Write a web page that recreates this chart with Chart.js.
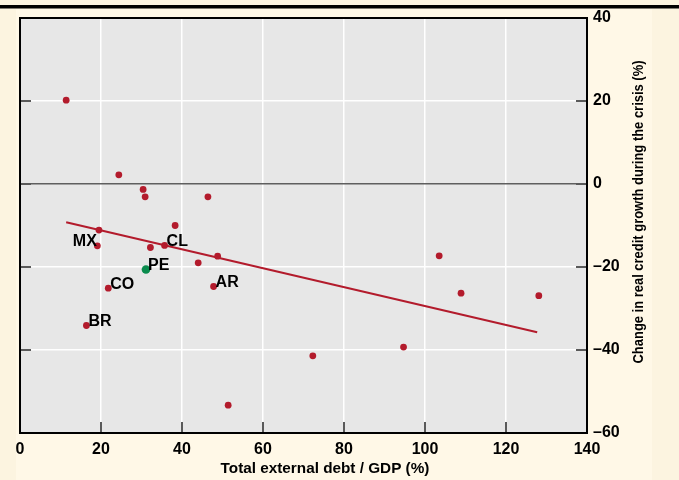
<!DOCTYPE html>
<html>
<head>
<meta charset="utf-8">
<script src="https://cdn.jsdelivr.net/npm/chart.js@4/dist/chart.umd.min.js"></script>
<style>
html,body{margin:0;padding:0;background:#FDF5E1;}
canvas{display:block;}
</style>
</head>
<body>
<canvas id="c" width="679" height="480"></canvas>
<script>
// ---- Data ----
const debtGdp      = [11.4, 24.4, 30.4, 30.9, 46.4, 38.3, 19.5, 19.1, 32.2, 35.7, 48.8, 44.0, 47.8, 21.8, 16.4, 103.5, 108.9, 128.1, 94.7, 72.3, 51.4];
const creditChange = [20.2, 2.2, -1.3, -3.1, -3.1, -10.0, -11.1, -14.9, -15.3, -14.8, -17.4, -19.0, -24.7, -25.1, -34.1, -17.3, -26.3, -26.9, -39.3, -41.4, -53.3];
const pointLabels  = ['', '', '', '', '', '', '', 'MX', '', 'CL', '', '', 'AR', 'CO', 'BR', '', '', '', '', '', ''];
const peDebt   = [31.1];
const peCredit = [-20.6];
const peLabels = ['PE'];
const fitDebt   = [11.4, 127.7];
const fitCredit = [-9.2, -35.7];
const xTicks = [0, 20, 40, 60, 80, 100, 120, 140];
const yTicks = [-60, -40, -20, 0, 20, 40];
const xTitle = 'Total external debt / GDP (%)';
const yTitle = 'Change in real credit growth during the crisis (%)';

const RED = '#B31B2C';
const GREEN = '#0B8C4E';
const FONT = "'Liberation Sans', Arial, sans-serif";

const toXY = (xs, ys) => xs.map((x, i) => ({x, y: ys[i]}));

const decor = {
  id: 'decor',
  beforeDraw(chart) {
    const {ctx, chartArea: a, width, height} = chart;
    ctx.save();
    ctx.fillStyle = '#FCF4E0';
    ctx.fillRect(0, 0, width, height);
    ctx.fillStyle = '#FFF8E7';
    ctx.fillRect(16, 9, 636, height - 9);
    ctx.fillStyle = '#000';
    ctx.fillRect(0, 5, width, 3.5);
    ctx.fillStyle = '#E7E7E7';
    ctx.fillRect(a.left, a.top, a.right - a.left, a.bottom - a.top);
    ctx.restore();
  },
  afterDraw(chart) {
    const {ctx, chartArea: a, scales} = chart;
    ctx.save();
    // inner tick marks
    ctx.strokeStyle = '#5a5a5a';
    ctx.lineWidth = 2;
    ctx.beginPath();
    xTicks.forEach(v => {
      if (v === xTicks[0] || v === xTicks[xTicks.length - 1]) return;
      const px = scales.x.getPixelForValue(v);
      ctx.moveTo(px, a.bottom);
      ctx.lineTo(px, a.bottom - 11);
    });
    yTicks.forEach(v => {
      if (v === yTicks[0] || v === yTicks[yTicks.length - 1]) return;
      const py = scales.y.getPixelForValue(v);
      ctx.moveTo(a.left, py);
      ctx.lineTo(a.left + 11, py);
      ctx.moveTo(a.right, py);
      ctx.lineTo(a.right - 11, py);
    });
    ctx.stroke();
    // frame
    ctx.strokeStyle = '#000';
    ctx.lineWidth = 2;
    ctx.strokeRect(a.left, a.top, a.right - a.left, a.bottom - a.top);
    // x title
    ctx.fillStyle = '#000';
    ctx.font = 'bold 15.3px ' + FONT;
    ctx.textAlign = 'center';
    ctx.textBaseline = 'middle';
    ctx.fillText(xTitle, 325, 469);
    // y title (reads bottom to top), slightly condensed like the reference
    ctx.font = 'bold 14.5px ' + FONT;
    const w = ctx.measureText(yTitle).width;
    ctx.translate(638.5, 212);
    ctx.rotate(-Math.PI / 2);
    ctx.scale(303 / w, 1);
    ctx.fillText(yTitle, 0, 0);
    ctx.restore();
  },
  afterDatasetsDraw(chart) {
    const {ctx} = chart;
    const rightAligned = new Set(['MX']);
    ctx.save();
    ctx.fillStyle = '#000';
    ctx.font = 'bold 16px ' + FONT;
    ctx.textBaseline = 'alphabetic';
    const drawLabels = (dsIndex, labels) => {
      chart.getDatasetMeta(dsIndex).data.forEach((el, i) => {
        const t = labels[i];
        if (!t) return;
        if (rightAligned.has(t)) {
          ctx.textAlign = 'right';
          ctx.fillText(t, el.x - 0.5, el.y + 0.5);
        } else {
          ctx.textAlign = 'left';
          ctx.fillText(t, el.x + 2, el.y + 0.5);
        }
      });
    };
    drawLabels(1, pointLabels);
    drawLabels(2, peLabels);
    ctx.restore();
  }
};

new Chart(document.getElementById('c'), {
  type: 'scatter',
  data: {
    datasets: [
      {
        type: 'line',
        data: toXY(fitDebt, fitCredit),
        borderColor: RED,
        borderWidth: 2,
        pointRadius: 0,
        fill: false,
        order: 3
      },
      {
        data: toXY(debtGdp, creditChange),
        backgroundColor: RED,
        borderWidth: 0,
        pointRadius: 3.4,
        order: 2
      },
      {
        data: toXY(peDebt, peCredit),
        backgroundColor: GREEN,
        borderWidth: 0,
        pointRadius: 4.3,
        order: 1
      }
    ]
  },
  options: {
    responsive: false,
    animation: false,
    devicePixelRatio: 1,
    layout: {padding: {left: 20, top: 18, right: 0, bottom: 0}},
    plugins: {legend: {display: false}, tooltip: {enabled: false}},
    scales: {
      x: {
        type: 'linear',
        min: xTicks[0], max: xTicks[xTicks.length - 1],
        afterBuildTicks: s => { s.ticks = xTicks.map(v => ({value: v})); },
        grid: {color: '#FFFFFF', lineWidth: 1.5, drawTicks: false},
        border: {display: false},
        ticks: {color: '#000', padding: 7, font: {family: FONT, size: 16, weight: 'bold'}, maxRotation: 0},
        afterFit: s => { s.height = 47; }
      },
      y: {
        type: 'linear',
        position: 'right',
        min: yTicks[0], max: yTicks[yTicks.length - 1],
        afterBuildTicks: s => { s.ticks = yTicks.map(v => ({value: v})); },
        grid: {
          color: c => (c.tick && c.tick.value === 0) ? '#5f5f5f' : '#FFFFFF',
          lineWidth: 1.5,
          drawTicks: false
        },
        border: {display: false},
        ticks: {
          color: '#000', padding: 6,
          font: {family: FONT, size: 16, weight: 'bold'},
          callback: v => String(v).replace('-', '\u2013')
        },
        afterFit: s => { s.width = 92; }
      }
    }
  },
  plugins: [decor]
});
</script>
</body>
</html>
